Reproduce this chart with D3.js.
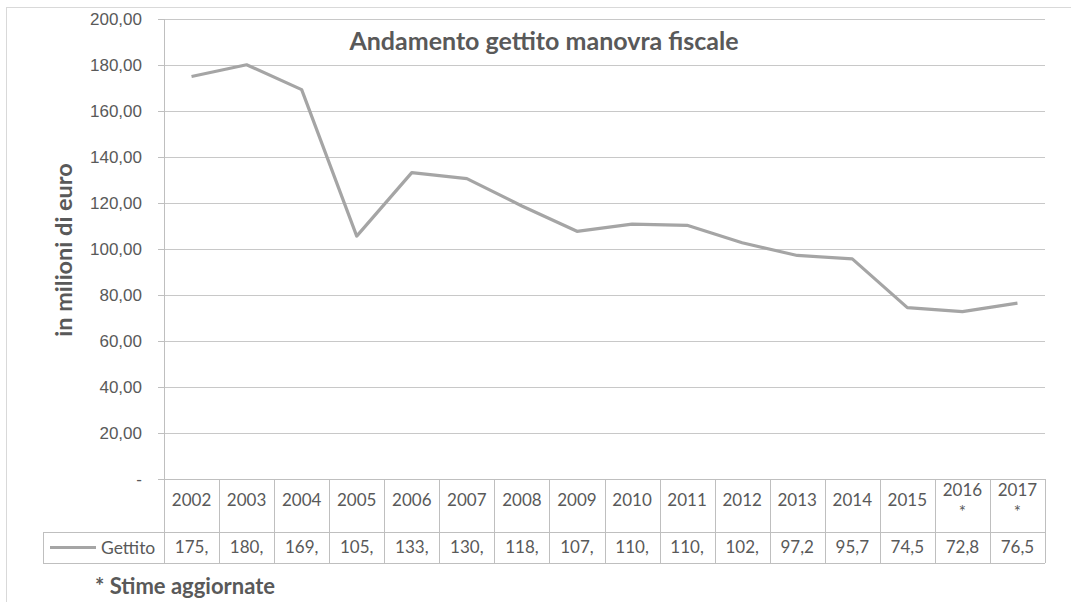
<!DOCTYPE html>
<html>
<head>
<meta charset="utf-8">
<script src="https://cdn.jsdelivr.net/npm/d3@7"></script>
<style>
  body { margin: 0; background: #fff; }
  svg { display: block; font-family: Lato, 'Open Sans', sans-serif; }
  .grid line { stroke: #c8c8c8; stroke-width: 1; }
  .grid .domain { display: none; }
  .axis-y .domain { display: none; }
  .axis-y line { stroke: #bfbfbf; }
  .axis-y text { fill: #595959; font-size: 17px; }
  .table-line { stroke: #bfbfbf; stroke-width: 1; }
  .cell-text { fill: #595959; font-size: 17px; text-anchor: middle; }
</style>
</head>
<body>
<div id="chart"></div>
<script>
const years = ['2002', '2003', '2004', '2005', '2006', '2007', '2008', '2009', '2010',
  '2011', '2012', '2013', '2014', '2015', '2016 *', '2017 *'];
const gettito = [175.0, 180.1, 169.3, 105.6, 133.2, 130.6, 118.7, 107.7, 110.8,
  110.3, 102.7, 97.2, 95.7, 74.5, 72.8, 76.5];
const yTicks = [0, 20, 40, 60, 80, 100, 120, 140, 160, 180, 200];
const seriesName = 'Gettito';
const chartTitle = 'Andamento gettito manovra fiscale';
const yLabel = 'in milioni di euro';
const footNote = '* Stime aggiornate';

const width = 1071;
const height = 602;

const plot = { left: 164, right: 1045, top: 19, bottom: 479 };
const headerBottom = 532;
const rowBottom = 563;
const legendLeft = 43;

const svg = d3.select('#chart')
  .append('svg')
    .attr('width', width)
    .attr('height', height);

// outer chart frame
svg.append('rect')
    .attr('x', 6.5)
    .attr('y', 7.5)
    .attr('width', width + 10)
    .attr('height', height + 10)
    .attr('fill', 'none')
    .attr('stroke', '#d9d9d9');

const x = d3.scaleBand()
    .domain(years)
    .range([plot.left, plot.right]);

const y = d3.scaleLinear()
    .domain([0, 200])
    .range([plot.bottom, plot.top]);

const tickFormat = (d) => d === 0 ? '-' : d3.format('.2f')(d).replace('.', ',');

svg.append('g')
    .attr('class', 'grid')
    .attr('transform', 'translate(' + plot.left + ',0)')
    .call(d3.axisRight(y)
      .tickValues(yTicks.filter((d) => d > 0))
      .tickFormat('')
      .tickSize(plot.right - plot.left));

svg.append('g')
    .attr('class', 'axis-y')
    .attr('transform', 'translate(' + plot.left + ',0)')
    .call(d3.axisLeft(y)
      .tickValues(yTicks)
      .tickFormat(tickFormat)
      .tickSize(6)
      .tickPadding(16));

// vertical axis line, runs down through the data table
svg.append('line')
    .attr('class', 'table-line')
    .attr('x1', plot.left + 0.5).attr('x2', plot.left + 0.5)
    .attr('y1', plot.top).attr('y2', rowBottom);

// data table
const table = svg.append('g').attr('class', 'data-table');

[plot.bottom, headerBottom, rowBottom].forEach((ly, i) => {
  table.append('line')
      .attr('class', 'table-line')
      .attr('x1', i === 0 ? plot.left : legendLeft)
      .attr('x2', plot.right)
      .attr('y1', ly + 0.5).attr('y2', ly + 0.5);
});

table.append('line')
    .attr('class', 'table-line')
    .attr('x1', legendLeft + 0.5).attr('x2', legendLeft + 0.5)
    .attr('y1', headerBottom).attr('y2', rowBottom);

table.selectAll('.col-line')
  .data(years)
  .enter().append('line')
    .attr('class', 'table-line col-line')
    .attr('x1', (d) => Math.round(x(d) + x.bandwidth()) + 0.5)
    .attr('x2', (d) => Math.round(x(d) + x.bandwidth()) + 0.5)
    .attr('y1', plot.bottom)
    .attr('y2', rowBottom);

const headerMid = (plot.bottom + headerBottom) / 2;

table.selectAll('.year-label')
  .data(years)
  .enter().append('text')
    .attr('class', 'cell-text year-label')
    .attr('x', (d) => x(d) + x.bandwidth() / 2)
    .attr('y', (d) => d.includes(' ') ? headerMid - 10 : headerMid)
    .attr('dy', '0.35em')
    .each(function(d) {
      const parts = d.split(' ');
      d3.select(this).selectAll('tspan')
        .data(parts)
        .enter().append('tspan')
          .attr('x', x(d) + x.bandwidth() / 2)
          .attr('dy', (p, i) => i === 0 ? 0 : 22)
          .text((p) => p);
    });

const cellLabel = (v) => d3.format('.1f')(v).replace('.', ',').slice(0, 4);
const rowMid = (headerBottom + rowBottom) / 2;

table.selectAll('.value-label')
  .data(gettito)
  .enter().append('text')
    .attr('class', 'cell-text value-label')
    .attr('x', (d, i) => x(years[i]) + x.bandwidth() / 2)
    .attr('y', rowMid)
    .attr('dy', '0.35em')
    .text(cellLabel);

// legend key in the table
table.append('line')
    .attr('x1', 50).attr('x2', 96)
    .attr('y1', rowMid).attr('y2', rowMid)
    .attr('stroke', '#a5a5a5')
    .attr('stroke-width', 3);

table.append('text')
    .attr('x', 101)
    .attr('y', rowMid)
    .attr('dy', '0.35em')
    .attr('fill', '#595959')
    .attr('font-size', '17.5px')
    .text(seriesName);

// series line
const line = d3.line()
    .x((d, i) => x(years[i]) + x.bandwidth() / 2)
    .y((d) => y(d));

svg.append('path')
    .datum(gettito)
    .attr('d', line)
    .attr('fill', 'none')
    .attr('stroke', '#a5a5a5')
    .attr('stroke-width', 3.2)
    .attr('stroke-linejoin', 'round');

svg.append('text')
    .attr('x', 544)
    .attr('y', 50)
    .attr('text-anchor', 'middle')
    .attr('fill', '#595959')
    .attr('font-size', '25px')
    .attr('font-weight', 'bold')
    .text(chartTitle);

svg.append('text')
    .attr('transform', 'translate(72,' + 250 + ') rotate(-90)')
    .attr('text-anchor', 'middle')
    .attr('fill', '#595959')
    .attr('font-size', '23.5px')
    .attr('font-weight', 'bold')
    .text(yLabel);

svg.append('text')
    .attr('x', 95)
    .attr('y', 594)
    .attr('fill', '#595959')
    .attr('font-size', '22px')
    .attr('font-weight', 'bold')
    .text(footNote);
</script>
</body>
</html>
